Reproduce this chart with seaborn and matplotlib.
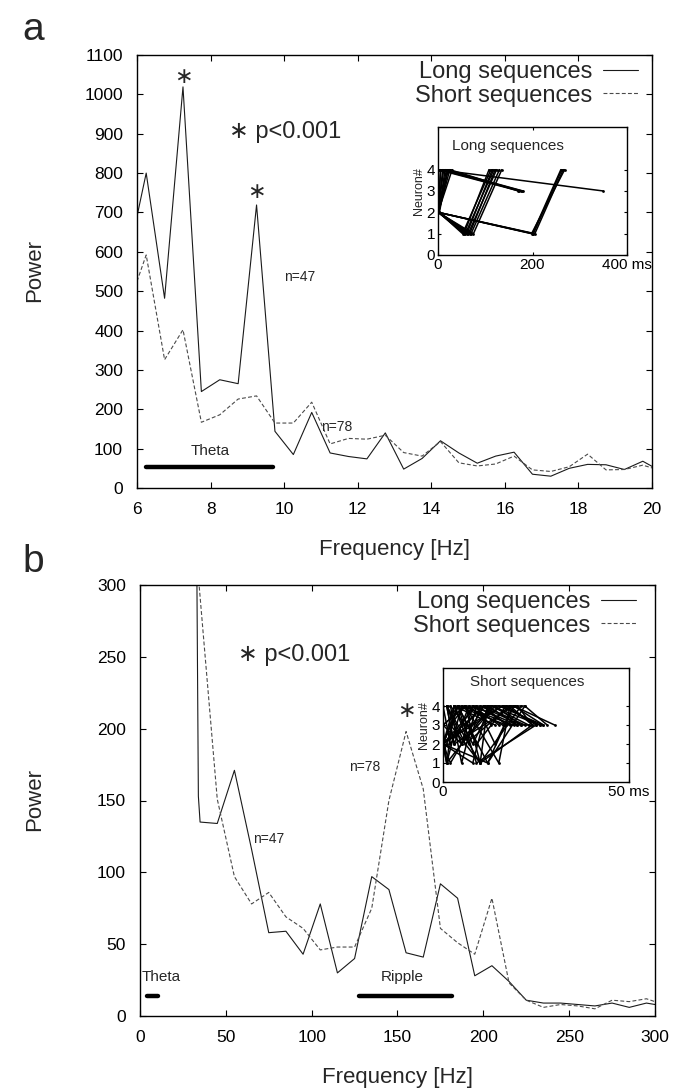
import matplotlib
import pandas as pd
import seaborn as sns

matplotlib.use("Agg")

import matplotlib.pyplot as plt

# panel a: theta band spectra
freq_a = [6.0, 6.25, 6.75, 7.25, 7.75, 8.25, 8.75, 9.25, 9.75, 10.25, 10.75, 11.25, 11.75,
          12.25, 12.75, 13.25, 13.75, 14.25, 14.75, 15.25, 15.75, 16.25, 16.75, 17.25,
          17.75, 18.25, 18.75, 19.25, 19.75, 20.0]
long_a = [690, 800, 482, 1019, 245, 275, 265, 719, 144, 85, 192, 89, 80, 74, 140, 48, 75,
          120, 89, 63, 81, 91, 35, 30, 50, 60, 59, 47, 68, 55]
short_a = [525, 592, 326, 402, 167, 186, 226, 234, 165, 165, 218, 112, 126, 124, 134, 90,
           81, 118, 64, 56, 61, 81, 46, 42, 54, 86, 46, 47, 58, 51]

# panel b: wide band spectra
freq_long_b = [33, 34, 35, 45, 55, 65, 75, 85, 95, 105, 115, 125, 135, 145, 155, 165, 175,
               185, 195, 205, 215, 225, 235, 245, 255, 265, 275, 285, 295, 300]
long_b = [330, 153, 135, 134, 171, 116, 58, 59, 43, 78, 30, 40, 97, 88, 44, 41, 92, 82, 28,
          35, 24, 11, 9, 9, 8, 7, 9, 6, 9, 8]
freq_short_b = [33, 45, 55, 65, 75, 85, 95, 105, 115, 125, 135, 145, 155, 165, 175, 185,
                195, 205, 215, 225, 235, 245, 255, 265, 275, 285, 295, 300]
short_b = [320, 151, 97, 78, 86, 69, 61, 46, 48, 48, 75, 150, 198, 158, 61, 51, 43, 82, 23,
           11, 6, 8, 7, 5, 11, 10, 12, 10]

# inset traces: spike time (ms) and neuron number for each sequence
long_seq_t = [
    [0, 2, 52, 112], [10, 0, 58, 118], [20, 3, 64, 124], [25, 1, 70, 130],
    [30, 0, 75, 135], [5, 1, 55, 108], [15, 2, 61, 115], [22, 0, 67, 121],
    [5, 175], [15, 180], [25, 170], [10, 178], [0, 172],
    [0, 200, 260], [0, 205, 265], [0, 198, 268], [0, 202, 262],
    [0, 350], [0, 0, 12], [0, 0, 6], [0, 0, 18],
]
long_seq_n = [
    [4, 2, 1, 4], [4, 2, 1, 4], [4, 2, 1, 4], [4, 2, 1, 4],
    [4, 2, 1, 4], [4, 2, 1, 4], [4, 2, 1, 4], [4, 2, 1, 4],
    [4, 3], [4, 3], [4, 3], [4, 3], [4, 3],
    [2, 1, 4], [2, 1, 4], [2, 1, 4], [2, 1, 4],
    [4, 3], [4, 2, 4], [4, 2, 4], [4, 2, 4],
]
short_seq_t = [
    [0, 1, 3, 14], [0, 2, 8, 20], [1, 4, 12, 22], [0, 6, 10, 24], [0, 3, 15, 27],
    [0, 12, 19, 30], [2, 5, 9, 18], [0, 7, 16, 26], [1, 10, 21], [0, 2, 11, 17],
    [3, 8, 13, 23], [0, 5, 14, 21], [0, 4, 9, 25], [1, 6, 18, 24], [0, 16, 22, 28],
    [0, 1, 5, 19], [1, 3, 7, 13], [0, 2, 6, 16], [4, 9, 17, 25], [0, 8, 12, 20],
    [2, 6, 11, 22], [0, 1, 13, 26], [0, 9, 14, 19], [1, 5, 8, 15], [0, 11, 20, 24],
    [3, 7, 10, 21], [0, 4, 17, 23], [0, 2, 10, 12], [1, 3, 19, 27], [0, 6, 15, 18],
]
short_seq_n = [
    [2, 1, 4, 3], [4, 2, 4, 3], [2, 4, 1, 4], [3, 4, 1, 3], [2, 4, 4, 3],
    [2, 1, 4, 3], [4, 1, 4, 3], [2, 3, 4, 3], [4, 1, 4], [2, 1, 4, 3],
    [4, 2, 4, 3], [3, 2, 4, 3], [2, 4, 1, 3], [4, 2, 4, 3], [2, 4, 4, 3],
    [2, 1, 4, 3], [4, 2, 4, 3], [2, 3, 4, 3], [4, 2, 4, 3], [2, 1, 4, 3],
    [4, 3, 4, 3], [3, 1, 4, 3], [2, 4, 2, 4], [4, 2, 4, 3], [2, 4, 4, 3],
    [4, 2, 4, 3], [2, 4, 3, 3], [2, 3, 1, 4], [4, 2, 4, 3], [3, 4, 1, 4],
]


def traces_frame(times, neurons):
    rows = []
    for k, (ts, ns) in enumerate(zip(times, neurons)):
        for t, n in zip(ts, ns):
            rows.append({"trace": k, "t": t, "n": n})
    return pd.DataFrame(rows)


def style_box(ax, fs, length, pad):
    for side in ax.spines.values():
        side.set_visible(True)
        side.set_linewidth(1.0)
        side.set_color("black")
    ax.tick_params(direction="in", top=True, right=True, length=length, width=0.8,
                   labelsize=fs, pad=pad, colors="black")


def draw_inset(ax, times, neurons, xmax, xticks, xlabels, title, tx, ty):
    df = traces_frame(times, neurons)
    sns.lineplot(data=df, x="t", y="n", units="trace", estimator=None, sort=False,
                 color="black", lw=1.1, marker="o", markersize=2, markeredgewidth=0, ax=ax)
    ax.set_xlim(0, xmax)
    ax.set_ylim(0, 6)
    ax.set_yticks([0, 1, 2, 3, 4])
    ax.set_xticks(xticks)
    ax.set_xticklabels(xlabels)
    ax.set_xlabel("")
    ax.set_ylabel("Neuron#", fontsize=9, labelpad=1)
    style_box(ax, 11, 2.5, 2)
    ax.text(tx, ty, title, transform=ax.transAxes, fontsize=11, ha="center", va="center")


sns.set_style("ticks")
plt.rcParams["font.family"] = ["Liberation Sans", "DejaVu Sans"]

fig = plt.figure(figsize=(6.84, 10.88), dpi=100)
W, H = 684, 1088


def px_axes(left, top, right, bottom):
    return fig.add_axes([left / W, 1 - bottom / H, (right - left) / W, (bottom - top) / H])


solid_style = dict(color="#1a1a1a", lw=0.8)
dash_style = dict(color="#4a4a4a", lw=0.8, linestyle=(0, (3.5, 2)))
star = "\u2217"

# ---- panel a
ax_a = px_axes(137, 55, 652, 488)
sns.lineplot(x=freq_a, y=long_a, label="Long sequences", ax=ax_a, **solid_style)
sns.lineplot(x=freq_a, y=short_a, label="Short sequences", ax=ax_a, **dash_style)
ax_a.set_xlim(6, 20)
ax_a.set_ylim(0, 1100)
ax_a.set_xticks(range(6, 21, 2))
ax_a.set_yticks(range(0, 1101, 100))
style_box(ax_a, 12.5, 4, 10)
ax_a.set_xlabel("Frequency [Hz]", fontsize=16)
ax_a.set_ylabel("Power", fontsize=16)
ax_a.xaxis.set_label_coords(0.5, -0.118)
ax_a.yaxis.set_label_coords(-0.178, 0.503)
ax_a.legend(loc="upper right", bbox_to_anchor=(0.973, 0.985), frameon=False,
            markerfirst=False, fontsize=17, handlelength=1.5, handletextpad=0.45,
            labelspacing=0.05, borderaxespad=0, borderpad=0)
ax_a.text(7.25, 1045, star, fontsize=16, ha="center", va="center",
          family=["DejaVu Sans"])
ax_a.text(9.25, 752, star, fontsize=16, ha="center", va="center",
          family=["DejaVu Sans"])
ax_a.text(8.5, 905, star + " p<0.001", fontsize=17, ha="left", va="center",
          family=["Liberation Sans", "DejaVu Sans"])
ax_a.text(10.0, 535, "n=47", fontsize=10, ha="left", va="center")
ax_a.text(11.0, 155, "n=78", fontsize=10, ha="left", va="center")
ax_a.text(8.0, 95, "Theta", fontsize=11, ha="center", va="center")
sns.lineplot(x=[6.24, 9.69], y=[53, 53], color="black", lw=3.2, ax=ax_a, legend=False)
fig.text(22 / W, 1 - 30 / H, "a", fontsize=28, ha="left", va="center")

ins_a = px_axes(438, 127, 627, 255)
draw_inset(ins_a, long_seq_t, long_seq_n, 400, [0, 200, 400], ["0", "200", "400 ms"],
           "Long sequences", 0.37, 0.85)

# ---- panel b
ax_b = px_axes(140, 585, 655, 1016)
sns.lineplot(x=freq_long_b, y=long_b, label="Long sequences", ax=ax_b, **solid_style)
sns.lineplot(x=freq_short_b, y=short_b, label="Short sequences", ax=ax_b, **dash_style)
ax_b.set_xlim(0, 300)
ax_b.set_ylim(0, 300)
ax_b.set_xticks(range(0, 301, 50))
ax_b.set_yticks(range(0, 301, 50))
style_box(ax_b, 12.5, 4, 10)
ax_b.set_xlabel("Frequency [Hz]", fontsize=16)
ax_b.set_ylabel("Power", fontsize=16)
ax_b.xaxis.set_label_coords(0.5, -0.118)
ax_b.yaxis.set_label_coords(-0.184, 0.502)
ax_b.legend(loc="upper right", bbox_to_anchor=(0.963, 0.985), frameon=False,
            markerfirst=False, fontsize=17, handlelength=1.5, handletextpad=0.45,
            labelspacing=0.05, borderaxespad=0, borderpad=0)
ax_b.text(155, 212, star, fontsize=16, ha="center", va="center", family=["DejaVu Sans"])
ax_b.text(57, 251, star + " p<0.001", fontsize=17, ha="left", va="center",
          family=["Liberation Sans", "DejaVu Sans"])
ax_b.text(66, 123, "n=47", fontsize=10, ha="left", va="center")
ax_b.text(122, 173, "n=78", fontsize=10, ha="left", va="center")
ax_b.text(1, 27, "Theta", fontsize=11, ha="left", va="center")
ax_b.text(153, 27, "Ripple", fontsize=11, ha="center", va="center")
sns.lineplot(x=[4, 10.5], y=[14, 14], color="black", lw=3.2, ax=ax_b, legend=False)
sns.lineplot(x=[127.6, 181.8], y=[14, 14], color="black", lw=3.2, ax=ax_b, legend=False)
fig.text(22 / W, 1 - 562 / H, "b", fontsize=28, ha="left", va="center")

ins_b = px_axes(443, 668, 629, 782)
draw_inset(ins_b, short_seq_t, short_seq_n, 50, [0, 50], ["0", "50 ms"],
           "Short sequences", 0.45, 0.88)

fig.savefig("out.png", dpi=100)
